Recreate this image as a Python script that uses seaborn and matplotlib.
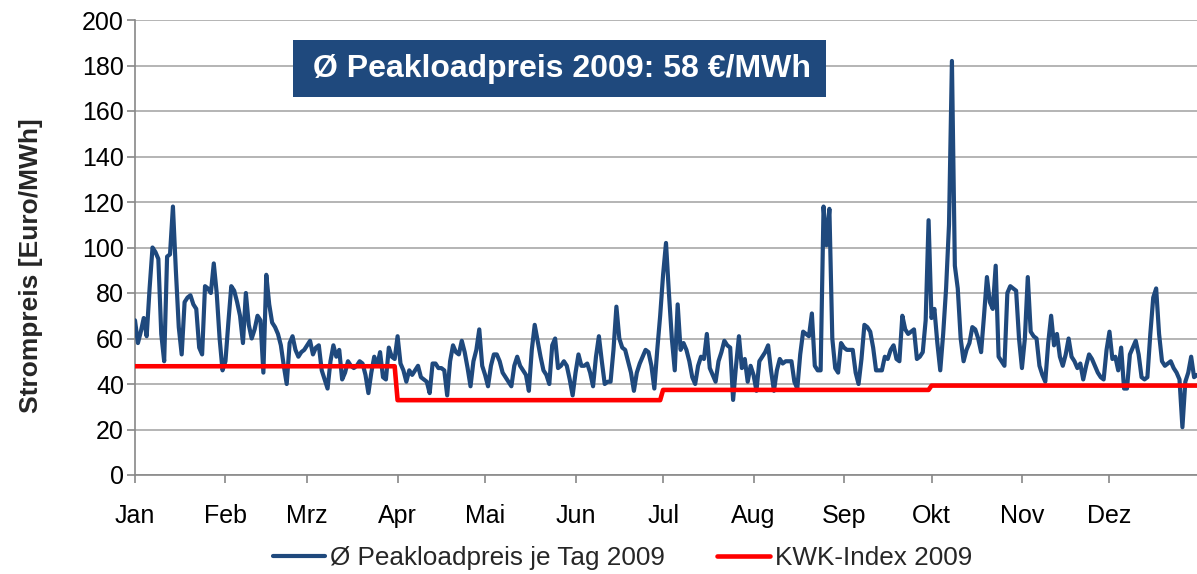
import numpy as np
import pandas as pd
import seaborn as sns
import matplotlib.pyplot as plt
from matplotlib.patches import Rectangle

monate = ["Jan", "Feb", "Mrz", "Apr", "Mai", "Jun", "Jul", "Aug", "Sep", "Okt", "Nov", "Dez"]
tage_pro_monat = [31, 28, 31, 30, 31, 30, 31, 31, 30, 31, 30, 31]

# Ø Peakloadpreis je Tag 2009 (EUR/MWh)
jan = [68, 58, 63, 69, 61, 82, 100, 98, 95, 62, 50, 96, 97, 118, 90, 65, 53, 76, 78, 79,
       75, 73, 56, 53, 83, 82, 80, 93, 80, 60, 46]
feb = [50, 67, 83, 81, 76, 70, 58, 80, 66, 60, 64, 70, 68, 45, 88, 75, 67, 65, 62, 57,
       48, 40, 58, 61, 55, 52, 54, 55]
mrz = [57, 59, 53, 56, 57, 46, 42, 38, 50, 57, 52, 55, 42, 45, 50, 48, 47, 48, 50, 49,
       44, 36, 45, 52, 48, 54, 43, 42, 56, 52, 51]
apr = [61, 49, 46, 41, 46, 44, 46, 48, 43, 42, 41, 36, 49, 49, 47, 47, 46, 35, 50, 57,
       54, 53, 59, 54, 47, 39, 50, 55, 64, 48]
mai = [44, 39, 48, 53, 53, 50, 45, 43, 41, 39, 48, 52, 48, 46, 44, 37, 55, 66, 59, 52,
       46, 44, 40, 57, 60, 47, 48, 50, 48, 42, 35]
jun = [45, 53, 48, 48, 49, 45, 39, 52, 61, 50, 40, 41, 41, 55, 74, 60, 56, 55, 50, 45,
       37, 45, 49, 52, 55, 54, 48, 38, 55, 70]
jul = [88, 102, 80, 60, 46, 75, 55, 58, 55, 50, 43, 40, 48, 52, 51, 62, 47, 44, 41, 50,
       54, 59, 57, 56, 33, 48, 61, 47, 51, 41, 48]
aug = [44, 37, 50, 52, 54, 57, 46, 37, 46, 51, 49, 50, 50, 50, 41, 38, 53, 63, 62, 61,
       71, 48, 46, 46, 118, 101, 117, 60, 47, 45, 58]
sep = [56, 55, 55, 55, 45, 40, 51, 66, 65, 63, 56, 46, 46, 46, 52, 51, 55, 57, 51, 50,
       70, 64, 62, 63, 64, 51, 52, 54, 68, 112]
okt = [69, 73, 58, 46, 62, 82, 110, 182, 92, 82, 60, 50, 55, 58, 65, 64, 60, 54, 70, 87,
       76, 73, 92, 52, 50, 48, 80, 83, 82, 81, 60]
nov = [47, 60, 87, 63, 61, 60, 48, 44, 41, 58, 70, 57, 62, 52, 48, 53, 60, 52, 50, 47,
       49, 42, 48, 53, 51, 48, 45, 43, 42, 55]
dez = [63, 51, 52, 46, 56, 38, 38, 53, 56, 59, 53, 43, 42, 43, 62, 78, 82, 62, 50, 48,
       49, 50, 47, 45, 42, 21, 41, 45, 52, 43, 44]

# KWK-Index je Quartal 2009
kwk_quartal = [47.8, 32.9, 37.4, 39.3]
tage_pro_quartal = [90, 91, 92, 92]

peak = jan + feb + mrz + apr + mai + jun + jul + aug + sep + okt + nov + dez
tag = np.arange(len(peak))
kwk = np.repeat(kwk_quartal, tage_pro_quartal)
df = pd.DataFrame({"Tag": tag, "Peak": peak, "KWK": kwk})

sns.set_theme(style="white")
plt.rcParams['font.family'] = ['Liberation Sans', 'DejaVu Sans']

W, H = 1197, 574
fig = plt.figure(figsize=(W / 100, H / 100), dpi=100)
ax = fig.add_axes([135 / W, 1 - 475 / H, 1062 / W, 455 / H])

sns.lineplot(data=df, x="Tag", y="Peak", ax=ax, color="#1F497D", linewidth=3.0,
             label="Ø Peakloadpreis je Tag 2009", zorder=3)
sns.lineplot(data=df, x="Tag", y="KWK", ax=ax, color="#FF0000", linewidth=3.3,
             label="KWK-Index 2009", zorder=4)

monatsanfang = np.cumsum([0] + tage_pro_monat[:-1])
ax.set_xticks(monatsanfang)
ax.set_xticklabels(monate)
ax.set_xlim(0, 364)
ax.set_ylim(0, 200)
ax.set_yticks(range(0, 201, 20))
ax.yaxis.grid(True, color="#A0A0A0", linewidth=1.1)
ax.xaxis.grid(False)
for s in ["top", "right"]:
    ax.spines[s].set_visible(False)
for s in ["left", "bottom"]:
    ax.spines[s].set_color("#888888")
    ax.spines[s].set_linewidth(1.2)

ax.tick_params(axis="both", bottom=True, left=True, length=6, width=1.2,
               color="#888888", labelsize=18, labelcolor="black", direction="out")
ax.tick_params(axis="x", pad=15)
ax.tick_params(axis="y", pad=2)
ax.set_xlabel("")
ax.set_ylabel("Strompreis [Euro/MWh]", fontsize=19, fontweight="bold")
ax.yaxis.set_label_coords(-0.087, 0.46)

handles, labels = ax.get_legend_handles_labels()
ax.get_legend().remove()
fig.legend(handles, labels, loc="center", bbox_to_anchor=(0.52, 0.028), ncol=2,
           frameon=False, fontsize=18.8, handlelength=2.0, handletextpad=0.2,
           columnspacing=2.0)

fig.patches.append(Rectangle((293 / W, 1 - 97 / H), 533 / W, 57 / H,
                             transform=fig.transFigure, facecolor="#1F497D",
                             edgecolor="none", zorder=5))
fig.text(313 / W, 1 - 68.5 / H, "Ø Peakloadpreis 2009: 58 €/MWh", color="white",
         fontsize=23, fontweight="bold", va="center", ha="left", zorder=6)

fig.savefig("out.png", dpi=100)
